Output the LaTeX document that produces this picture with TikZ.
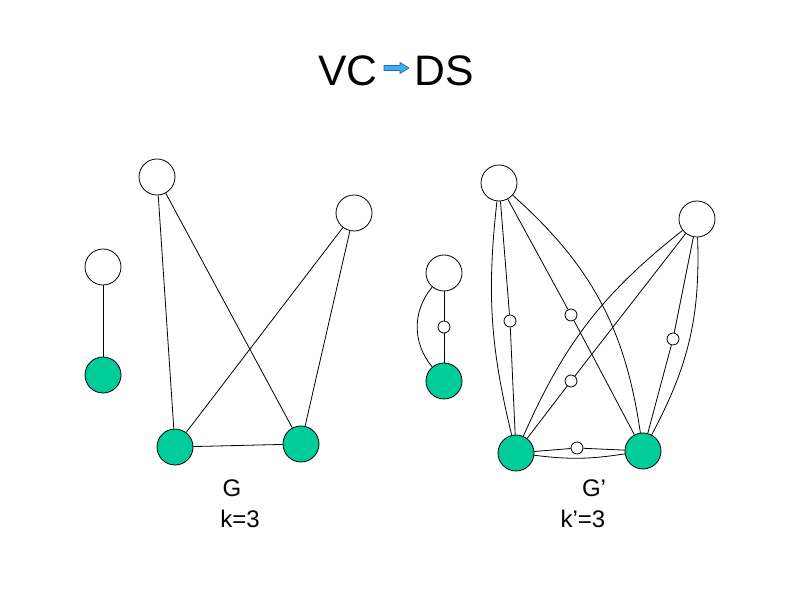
\documentclass[tikz,border=0pt]{standalone}
\usepackage{fontspec}
\setmainfont{Liberation Sans}
\usepackage{tikz}
\definecolor{covergreen}{RGB}{0,204,153}
\definecolor{arrowblue}{RGB}{35,100,190}
\definecolor{arrowlight}{RGB}{60,175,235}
\tikzset{
  vtx/.style={circle, draw, fill=white, minimum size=27pt, inner sep=0pt,
    line width=0.6pt},
  covervtx/.style={vtx, fill=covergreen},
  auxvtx/.style={circle, draw, fill=white, minimum size=9pt, inner sep=0pt,
    line width=0.6pt},
  link/.style={line width=0.6pt},
  arrowshape/.style={draw=arrowblue, fill=arrowlight, line width=0.5pt},
  headline/.style={font=\fontsize{32}{38}\selectfont, inner sep=0pt},
  graphname/.style={font=\fontsize{18}{22}\selectfont, inner sep=0pt},
}

\begin{document}
\begin{tikzpicture}[x=0.75pt, y=0.75pt]
  \useasboundingbox (0,0) rectangle (794,595);

  % Title
  \node[headline] (vc) at (348,524) {VC};
  \draw[arrowshape] (384,524.5) -- (400,524.5) -- (400,521.5) -- (409,527)
    -- (400,532.5) -- (400,529.5) -- (384,529.5) -- cycle;
  \node[headline] (ds) at (444,524) {DS};

  % Graph G
  \node[vtx] (a1) at (157,418) {};
  \node[vtx] (a2) at (354,382) {};
  \node[vtx] (a3) at (103,328) {};
  \node[covervtx] (a4) at (103,220) {};
  \node[covervtx] (g1) at (175,148) {};
  \node[covervtx] (g2) at (301,151) {};

  \draw[link] (a3) -- (a4);
  \draw[link] (a1) -- (g1);
  \draw[link] (a1) -- (g2);
  \draw[link] (a2) -- (g1);
  \draw[link] (a2) -- (g2);
  \draw[link] (g1) -- (g2);

  \node[graphname] (gname) at (232,107) {G};
  \node[graphname] (gk) at (240,76) {k=3};

  % Graph G'
  \node[vtx] (b1) at (499,412) {};
  \node[vtx] (b2) at (697,376) {};
  \node[vtx] (b3) at (444,322) {};
  \node[covervtx] (b4) at (444,214) {};
  \node[covervtx] (h1) at (516,142) {};
  \node[covervtx] (h2) at (643,144) {};

  % one new vertex per edge
  \node[auxvtx] (w34) at (444,268) {};
  \node[auxvtx] (w11) at (510,274) {};
  \node[auxvtx] (w12) at (571,280) {};
  \node[auxvtx] (w21) at (571,214) {};
  \node[auxvtx] (w22) at (673,256) {};
  \node[auxvtx] (whh) at (577,147) {};

  \draw[link] (b3) -- (w34); \draw[link] (w34) -- (b4);
  \draw[link] (b1) -- (w11); \draw[link] (w11) -- (h1);
  \draw[link] (b1) -- (w12); \draw[link] (w12) -- (h2);
  \draw[link] (b2) -- (w21); \draw[link] (w21) -- (h1);
  \draw[link] (b2) -- (w22); \draw[link] (w22) -- (h2);
  \draw[link] (h1) -- (whh); \draw[link] (whh) -- (h2);

  % original edges kept
  \draw[link] (b3) to[bend right=40] (b4);
  \draw[link] (b1) to[bend right=10] (h1);
  \draw[link] (b1) to[bend left=20] (h2);
  \draw[link] (b2) to[bend right=14] (h1);
  \draw[link] (b2) to[bend left=15] (h2);
  \draw[link] (h1) to[bend right=8] (h2);

  \node[graphname] (gpname) at (594,107) {G’};
  \node[graphname] (gpk) at (583,76) {k’=3};
\end{tikzpicture}
\end{document}
